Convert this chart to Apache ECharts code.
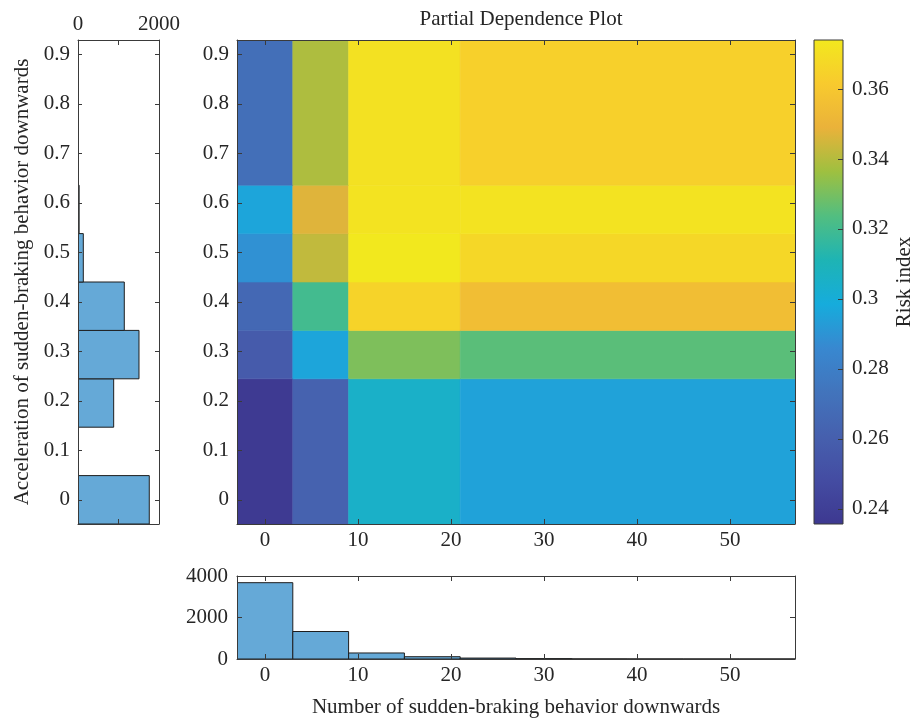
<!DOCTYPE html>
<html>
<head>
<meta charset="utf-8">
<script src="https://cdn.jsdelivr.net/npm/echarts@6/dist/echarts.min.js"></script>
<style>html,body{margin:0;padding:0;background:#fff}#c{width:916px;height:720px}</style>
</head>
<body>
<div id="c"></div>
<script>
// ---- data ----
const xColEdges = [-3, 3, 9, 21, 57];
const yRowEdges = [-0.049, 0.2444, 0.3422, 0.44, 0.5378, 0.6356, 0.929];
// risk index per row (bottom to top), per column (left to right)
const riskRows = [
  [0.237, 0.262, 0.305, 0.295],
  [0.258, 0.296, 0.331, 0.325],
  [0.266, 0.320, 0.365, 0.355],
  [0.289, 0.342, 0.374, 0.367],
  [0.296, 0.347, 0.372, 0.372],
  [0.270, 0.339, 0.371, 0.364]
];
const xBinEdges = [-3, 3, 9, 15, 21, 27, 33, 39, 45, 51, 57];
const xCounts = [3678, 1325, 290, 110, 45, 18, 6, 3, 1, 1];
const yBinEdges = [-0.049, 0.0488, 0.1466, 0.2444, 0.3422, 0.44, 0.5378, 0.6356, 0.7334, 0.8312, 0.929];
const yCounts = [1760, 0, 881, 1506, 1143, 131, 28, 0, 0, 0];
const xTicks = [0, 10, 20, 30, 40, 50];
const yTicks = [0, 0.1, 0.2, 0.3, 0.4, 0.5, 0.6, 0.7, 0.8, 0.9];
const cbTicks = [0.24, 0.26, 0.28, 0.3, 0.32, 0.34, 0.36];
const cbRange = [0.2357, 0.374];
const parula = ['#3D3890', '#444CA2', '#4660AE', '#4274BC', '#3888D0', '#16ACDC',
                '#1EB4B4', '#52BE80', '#9EC040', '#EAB23A', '#F8CA2E', '#F2E81E'];

// ---- build ----
const heatData = [];
riskRows.forEach((row, r) => row.forEach((v, c) => {
  heatData.push([xColEdges[c], xColEdges[c + 1], yRowEdges[r], yRowEdges[r + 1], v]);
}));
const xHist = xCounts.map((n, i) => [xBinEdges[i], xBinEdges[i + 1], n]);
const yHist = yCounts.map((n, i) => [yBinEdges[i], yBinEdges[i + 1], n]);

const FONT = 'Liberation Serif';
const FS = 21;
const TXT = '#262626';
const AX = '#3a3a3a';
const plain = (v) => String(v);
const lbl = (extra) => Object.assign({color: TXT, fontFamily: FONT, fontSize: FS, formatter: plain}, extra || {});
const nameStyle = {color: TXT, fontFamily: FONT, fontSize: FS};
const line = {show: true, onZero: false, lineStyle: {color: AX, width: 1}};

function tickAxis(base) {
  return Object.assign({
    type: 'value', z: 10, splitLine: {show: false},
    axisLine: line
  }, base);
}

const G_MAIN = {left: 237, top: 40, width: 558, height: 484};
const G_LH = {left: 78, top: 40, width: 81, height: 484};
const G_BH = {left: 237, top: 576, width: 558, height: 83};
const G_CB = {left: 814, top: 40, width: 29, height: 484};

const option = {
  animation: false,
  backgroundColor: '#fff',
  title: {
    text: 'Partial Dependence Plot', left: 516, top: 4, textAlign: 'center',
    textStyle: {fontFamily: FONT, fontSize: FS, fontWeight: 'normal', color: TXT}
  },
  grid: [G_MAIN, G_LH, G_BH, G_CB],
  visualMap: {
    type: 'continuous', show: false, min: cbRange[0], max: cbRange[1],
    dimension: 4, seriesIndex: 0, inRange: {color: parula}
  },
  xAxis: [
    tickAxis({gridIndex: 0, min: -3, max: 57, position: 'bottom',
      axisTick: {inside: true, length: 5, lineStyle: {color: AX}, customValues: xTicks},
      axisLabel: lbl({customValues: xTicks, margin: 6})}),
    tickAxis({gridIndex: 0, min: -3, max: 57, position: 'top',
      axisTick: {inside: true, length: 5, lineStyle: {color: AX}, customValues: xTicks},
      axisLabel: {show: false}}),
    tickAxis({gridIndex: 1, min: 0, max: 2000, position: 'top',
      axisTick: {inside: true, length: 5, lineStyle: {color: AX}, customValues: [0, 1000, 2000]},
      axisLabel: lbl({customValues: [0, 2000], margin: 5})}),
    tickAxis({gridIndex: 1, min: 0, max: 2000, position: 'bottom',
      axisTick: {inside: true, length: 5, lineStyle: {color: AX}, customValues: [0, 1000, 2000]},
      axisLabel: {show: false}}),
    tickAxis({gridIndex: 2, min: -3, max: 57, position: 'bottom',
      axisTick: {inside: true, length: 5, lineStyle: {color: AX}, customValues: xTicks},
      axisLabel: lbl({customValues: xTicks, margin: 6}),
      name: 'Number of sudden-braking behavior downwards', nameLocation: 'middle', nameGap: 38,
      nameTextStyle: nameStyle}),
    tickAxis({gridIndex: 2, min: -3, max: 57, position: 'top',
      axisTick: {inside: true, length: 5, lineStyle: {color: AX}, customValues: xTicks},
      axisLabel: {show: false}}),
    {type: 'value', gridIndex: 3, min: 0, max: 1, show: false}
  ],
  yAxis: [
    tickAxis({gridIndex: 0, min: -0.049, max: 0.929, position: 'left',
      axisTick: {inside: true, length: 5, lineStyle: {color: AX}, customValues: yTicks},
      axisLabel: lbl({customValues: yTicks, margin: 8})}),
    tickAxis({gridIndex: 0, min: -0.049, max: 0.929, position: 'right',
      axisTick: {inside: true, length: 5, lineStyle: {color: AX}, customValues: yTicks},
      axisLabel: {show: false}}),
    tickAxis({gridIndex: 1, min: -0.049, max: 0.929, position: 'left',
      axisTick: {inside: true, length: 4, lineStyle: {color: AX}, customValues: yTicks},
      axisLabel: lbl({customValues: yTicks, margin: 8}),
      name: 'Acceleration of sudden-braking behavior downwards', nameLocation: 'middle', nameGap: 45,
      nameTextStyle: nameStyle}),
    tickAxis({gridIndex: 1, min: -0.049, max: 0.929, position: 'right',
      axisTick: {inside: true, length: 4, lineStyle: {color: AX}, customValues: yTicks},
      axisLabel: {show: false}}),
    tickAxis({gridIndex: 2, min: 0, max: 4000, interval: 2000, position: 'left',
      axisTick: {inside: true, length: 5, lineStyle: {color: AX}},
      axisLabel: lbl({margin: 9})}),
    tickAxis({gridIndex: 2, min: 0, max: 4000, interval: 2000, position: 'right',
      axisTick: {inside: true, length: 5, lineStyle: {color: AX}},
      axisLabel: {show: false}}),
    tickAxis({gridIndex: 3, min: cbRange[0], max: cbRange[1], position: 'right',
      axisLine: {show: false, onZero: false},
      axisTick: {inside: true, length: 5, lineStyle: {color: AX}, customValues: cbTicks},
      axisLabel: lbl({customValues: cbTicks, margin: 9}),
      name: 'Risk index', nameLocation: 'middle', nameGap: 51, nameRotate: 90,
      nameTextStyle: nameStyle})
  ],
  series: [
    {
      type: 'custom', xAxisIndex: 0, yAxisIndex: 0, z: 2, clip: true,
      data: heatData,
      encode: {x: [0, 1], y: [2, 3]},
      renderItem: function (params, api) {
        const p0 = api.coord([api.value(0), api.value(3)]);
        const p1 = api.coord([api.value(1), api.value(2)]);
        const c = api.visual('color');
        return {type: 'rect', shape: {x: p0[0], y: p0[1], width: p1[0] - p0[0], height: p1[1] - p0[1]},
          style: {fill: c, stroke: c, lineWidth: 0.6}};
      }
    },
    {
      type: 'custom', xAxisIndex: 3, yAxisIndex: 3, z: 2, clip: true,
      data: yHist,
      encode: {y: [0, 1], x: 2},
      renderItem: function (params, api) {
        if (api.value(2) <= 0) return;
        const p0 = api.coord([0, api.value(1)]);
        const p1 = api.coord([api.value(2), api.value(0)]);
        return {type: 'rect', shape: {x: p0[0], y: p0[1], width: p1[0] - p0[0], height: p1[1] - p0[1]},
          style: {fill: '#65A9D7', stroke: '#1e1e1e', lineWidth: 1}};
      }
    },
    {
      type: 'custom', xAxisIndex: 4, yAxisIndex: 4, z: 2, clip: true,
      data: xHist,
      encode: {x: [0, 1], y: 2},
      renderItem: function (params, api) {
        if (api.value(2) <= 0) return;
        const p0 = api.coord([api.value(0), api.value(2)]);
        const p1 = api.coord([api.value(1), 0]);
        return {type: 'rect', shape: {x: p0[0], y: p0[1], width: p1[0] - p0[0], height: p1[1] - p0[1]},
          style: {fill: '#65A9D7', stroke: '#1e1e1e', lineWidth: 1}};
      }
    },
    {
      type: 'custom', xAxisIndex: 6, yAxisIndex: 6, z: 2, clip: false,
      data: [[0, 1, cbRange[0], cbRange[1]]],
      encode: {x: [0, 1], y: [2, 3]},
      silent: true,
      renderItem: function (params, api) {
        const p0 = api.coord([api.value(0), api.value(3)]);
        const p1 = api.coord([api.value(1), api.value(2)]);
        const stops = parula.map((c, i) => ({offset: i / (parula.length - 1), color: c}));
        return {type: 'rect', shape: {x: p0[0], y: p0[1], width: p1[0] - p0[0], height: p1[1] - p0[1]},
          style: {fill: new echarts.graphic.LinearGradient(0, 1, 0, 0, stops), stroke: AX, lineWidth: 1}};
      }
    }
  ]
};

const chart = echarts.init(document.getElementById('c'), null, {renderer: 'canvas'});
chart.setOption(option);
</script>
</body>
</html>
